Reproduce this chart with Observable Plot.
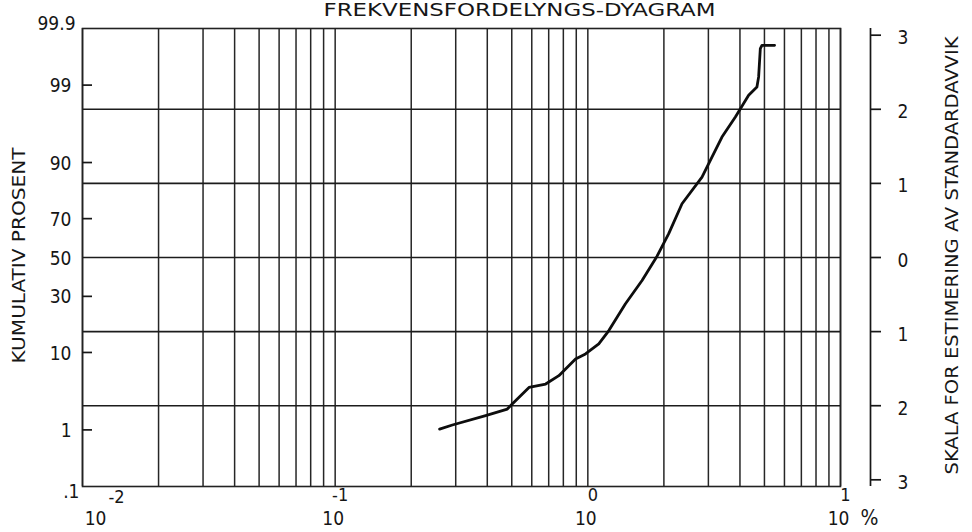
<!DOCTYPE html>
<html><head><meta charset="utf-8">
<script src="https://cdn.jsdelivr.net/npm/d3@7"></script>
<script src="https://cdn.jsdelivr.net/npm/@observablehq/plot@0.6"></script>
<style>
html,body{margin:0;padding:0;background:#fff;}
#chart svg{display:block;}
</style></head><body><div id="chart"></div>
<script>
// ---- data ----
const titleText = "FREKVENSFORDELYNGS-DYAGRAM";
const leftTitle = "KUMULATIV PROSENT";
const rightTitle = "SKALA FOR ESTIMERING AV STANDARDAVVIK";

const yLimitsP = [0.1, 99.9];
const xDomain = [0.01, 10];
const gridX = [0.01,0.02,0.03,0.04,0.05,0.06,0.07,0.08,0.09,
               0.1,0.2,0.3,0.4,0.5,0.6,0.7,0.8,0.9,
               1,2,3,4,5,6,7,8,9,10];
const sdGrid = [-2, -1, 0, 1, 2];
const sdTicks = [3, 2, 1, 0, -1, -2, -3];
const sdLabels = ["3", "2", "1", "0", "1", "2", "3"];
const leftTickP = [99, 90, 70, 30, 10, 1];
const leftLabelP = [99, 90, 70, 50, 30, 10, 1];
const leftLabels = ["99", "90", "70", "50", "30", "10", "1"];
const topLabelP = [99.9], topLabel = ["99.9"];
const bottomLabelP = [0.1], bottomLabel = [".1"];
const decades = [0.01, 0.1, 1, 10];
const exponentLabels = ["-2", "-1", "0", "1"];
const baseLabels = ["10", "10", "10", "10"];
const unitLabel = ["%"];

const curveX = [0.259,0.291,0.394,0.480,0.502,0.585,0.681,0.768,0.894,0.979,1.105,1.211,1.409,1.639,1.879,2.090,2.359,2.830,3.099,3.395,3.836,4.329,4.669,4.742,4.816,4.886,5.484];
const curveP = [1.03,1.19,1.64,2.04,2.40,3.98,4.39,5.54,8.55,9.66,12.2,16.2,26.6,37.8,50.7,62.6,76.6,86.1,91.2,94.8,97.1,98.57,98.93,99.26,99.76,99.79,99.79];

// inverse standard normal CDF (Acklam)
function probit(p) {
  const a = [-3.969683028665376e+01, 2.209460984245205e+02, -2.759285104469687e+02, 1.383577518672690e+02, -3.066479806614716e+01, 2.506628277459239e+00];
  const b = [-5.447609879822406e+01, 1.615858368580409e+02, -1.556989798598866e+02, 6.680131188771972e+01, -1.328068155288572e+01];
  const c = [-7.784894002430293e-03, -3.223964580411365e-01, -2.400758277161838e+00, -2.549732539343734e+00, 4.374664141464968e+00, 2.938163982698783e+00];
  const d = [7.784695709041462e-03, 3.224671290700398e-01, 2.445134137142996e+00, 3.754408661907416e+00];
  const pl = 0.02425, ph = 1 - pl;
  let q, r;
  if (p < pl) { q = Math.sqrt(-2 * Math.log(p)); return (((((c[0]*q+c[1])*q+c[2])*q+c[3])*q+c[4])*q+c[5]) / ((((d[0]*q+d[1])*q+d[2])*q+d[3])*q+1); }
  if (p <= ph) { q = p - 0.5; r = q*q; return (((((a[0]*r+a[1])*r+a[2])*r+a[3])*r+a[4])*r+a[5])*q / (((((b[0]*r+b[1])*r+b[2])*r+b[3])*r+b[4])*r+1); }
  q = Math.sqrt(-2 * Math.log(1 - p));
  return -(((((c[0]*q+c[1])*q+c[2])*q+c[3])*q+c[4])*q+c[5]) / ((((d[0]*q+d[1])*q+d[2])*q+d[3])*q+1);
}
const zOf = (pct) => probit(pct / 100);

const FONT = '"DejaVu Sans Condensed","Liberation Sans Narrow","DejaVu Sans",sans-serif';
const INK = "#161616";
const curve = curveX.map((x, i) => ({x, p: curveP[i]}));

const plot = Plot.plot({
  width: 972, height: 532,
  marginLeft: 82, marginRight: 132, marginTop: 28, marginBottom: 46,
  style: {fontFamily: FONT, background: "#fff", color: INK, overflow: "visible"},
  x: {type: "log", domain: xDomain, axis: null},
  y: {domain: yLimitsP.map(zOf), axis: null},
  marks: [
    Plot.ruleX(gridX, {stroke: "#262626", strokeWidth: 1.5}),
    Plot.ruleY(sdGrid, {stroke: "#1c1c1c", strokeWidth: 1.6}),
    Plot.frame({stroke: "#222", strokeWidth: 1.6}),
    // left inward ticks
    Plot.axisY(leftTickP.map(zOf), {anchor: "left", tickSize: -10, fill: "none", strokeWidth: 1.7, label: null}),
    // left labels
    Plot.text(leftLabelP, {frameAnchor: "left", y: zOf, text: leftLabels, textAnchor: "end", dx: -11, dy: 1, fontSize: 19}),
    Plot.text(topLabelP, {frameAnchor: "left", y: zOf, text: topLabel, textAnchor: "end", lineAnchor: "bottom", dx: -7, dy: 1, fontSize: 19}),
    Plot.text(bottomLabelP, {frameAnchor: "left", y: zOf, text: bottomLabel, textAnchor: "end", dx: -3, dy: 5, fontSize: 19}),
    // right SD axis
    Plot.ruleX([xDomain[1]], {dx: 30, stroke: INK, strokeWidth: 1.7}),
    Plot.axisY(sdTicks, {anchor: "right", dx: 30, tickSize: 10, fill: "none", strokeWidth: 1.7, label: null}),
    Plot.text(sdTicks, {frameAnchor: "right", y: d => d, text: sdLabels, textAnchor: "start", dx: 57, dy: 3, fontSize: 19}),
    // bottom labels
    Plot.text(decades.slice(0, 1), {x: d => d, frameAnchor: "bottom", text: exponentLabels.slice(0, 1), dx: 34, dy: 16, fontSize: 18}),
    Plot.text(decades.slice(1), {x: d => d, frameAnchor: "bottom", text: exponentLabels.slice(1), dx: 5, dy: 14, fontSize: 18}),
    Plot.text(decades.slice(0, 1), {x: d => d, frameAnchor: "bottom", text: baseLabels.slice(0, 1), dx: 13, dy: 38, fontSize: 19}),
    Plot.text(decades.slice(1), {x: d => d, frameAnchor: "bottom", text: baseLabels.slice(1), dx: -2, dy: 38, fontSize: 19}),
    Plot.text(decades.slice(-1), {x: d => d, frameAnchor: "bottom", text: unitLabel, dx: 29, dy: 38, fontSize: 21}),
    // titles
    Plot.text([titleText], {frameAnchor: "top", text: d => d, dx: 58, dy: -13, lineAnchor: "bottom", fontSize: 17}),
    Plot.text([leftTitle], {frameAnchor: "left", text: d => d, textAnchor: "start", dx: -63, dy: 106, rotate: -90, fontSize: 17}),
    Plot.text([rightTitle], {frameAnchor: "right", text: d => d, textAnchor: "start", dx: 112, dy: 217, rotate: -90, fontSize: 18}),
    // data curve
    Plot.line(curve, {x: "x", y: d => zOf(d.p), stroke: "#0d0d0d", strokeWidth: 2.8, strokeLinejoin: "round"})
  ]
});

const svg = d3.select(plot);
const fit = (str, len) => svg.selectAll("text")
  .filter(function () { return this.textContent === str; })
  .attr("textLength", len).attr("lengthAdjust", "spacingAndGlyphs");
fit(titleText, 392);
fit(leftTitle, 216);
fit(rightTitle, 438);
document.getElementById("chart").appendChild(plot);
</script></body></html>
